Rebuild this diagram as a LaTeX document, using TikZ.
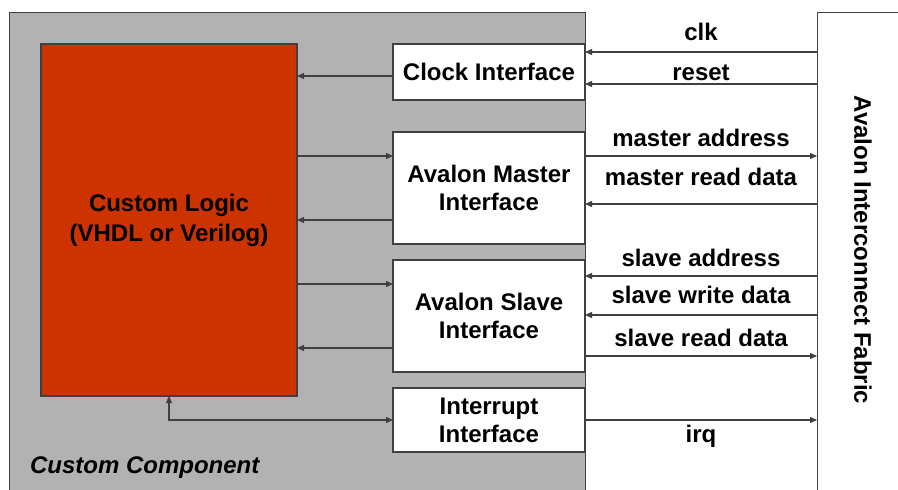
\documentclass[tikz,border=0pt]{standalone}
\usepackage{fontspec}
\setmainfont{Liberation Sans}
\usetikzlibrary{arrows.meta, positioning, calc}
\definecolor{compgray}{HTML}{B2B2B2}
\definecolor{logicred}{HTML}{CC3300}
\definecolor{edgegray}{HTML}{404040}

\begin{document}
\begin{tikzpicture}[x=0.5pt, y=-0.5pt, >={Triangle[length=3.5pt,width=3pt]},
    every node/.style={font=\fontsize{12}{14}\selectfont\bfseries},
    frame/.style={draw=edgegray, line width=0.6pt, inner sep=0pt, anchor=north west},
    ifbox/.style={draw=edgegray, line width=0.6pt, fill=white, inner sep=0pt, outer sep=0pt, minimum width=96pt, align=center},
    sig/.style={draw=edgegray, line width=0.6pt, ->},
    sigtxt/.style={anchor=base}]
  \clip (0,0) rectangle (898,489);
  \node[frame, fill=compgray, minimum width=288pt, minimum height=252pt] (comp) at (9,12) {};
  \node[frame, fill=white, minimum width=46pt, minimum height=252pt] (fabric) at (817,12) {};
  \node[rotate=-90] (fablbl) at (863,250) {Avalon Interconnect Fabric};
  \node[anchor=base west, font=\fontsize{12}{14}\selectfont\bfseries\itshape] (complbl) at (23,473) {Custom Component};

  \node[draw=edgegray, line width=0.6pt, fill=logicred, inner sep=0pt, outer sep=0pt, minimum width=128pt, minimum height=176pt,
        align=center, font=\fontsize{12}{15}\selectfont\bfseries] (logic) at (169,220) {Custom Logic\\(VHDL or Verilog)};

  \node[ifbox, minimum height=28pt] (clock) at (489,72) {Clock Interface};
  \node[ifbox, minimum height=56pt, below=16pt of clock] (master) {Avalon Master\\Interface};
  \node[ifbox, minimum height=56pt, below=8pt of master] (slave) {Avalon Slave\\Interface};
  \node[ifbox, minimum height=32pt, below=8pt of slave] (irq) {Interrupt\\Interface};

  \coordinate (ck) at ([yshift=-2pt]clock.west);
  \coordinate (mo) at ([yshift=16pt]master.west);
  \coordinate (mi) at ([yshift=-16pt]master.west);
  \coordinate (so) at ([yshift=16pt]slave.west);
  \coordinate (si) at ([yshift=-16pt]slave.west);
  \draw[sig] (ck) -- (ck -| logic.east);
  \draw[sig] (mo -| logic.east) -- (mo);
  \draw[sig] (mi) -- (mi -| logic.east);
  \draw[sig] (so -| logic.east) -- (so);
  \draw[sig] (si) -- (si -| logic.east);
  \draw[sig, <->] (logic.south) |- (irq.west);

  \foreach \b/\s in {clock/10pt, clock/-6pt, master/-8pt, slave/20pt, slave/0.5pt} {
    \coordinate (q) at ([yshift=\s]\b.east);
    \draw[sig] (q -| fabric.west) -- (q);
  }
  \foreach \b/\s in {master/16pt, slave/-20pt, irq/0pt} {
    \coordinate (q) at ([yshift=\s]\b.east);
    \draw[sig] (q) -- (q -| fabric.west);
  }
  \foreach \t/\y [count=\i] in {clk/40, reset/80, master address/146, master read data/185,
      slave address/266, slave write data/303, slave read data/346, irq/442}
    \node[sigtxt] (sig\i) at (701,\y) {\t};
\end{tikzpicture}
\end{document}
